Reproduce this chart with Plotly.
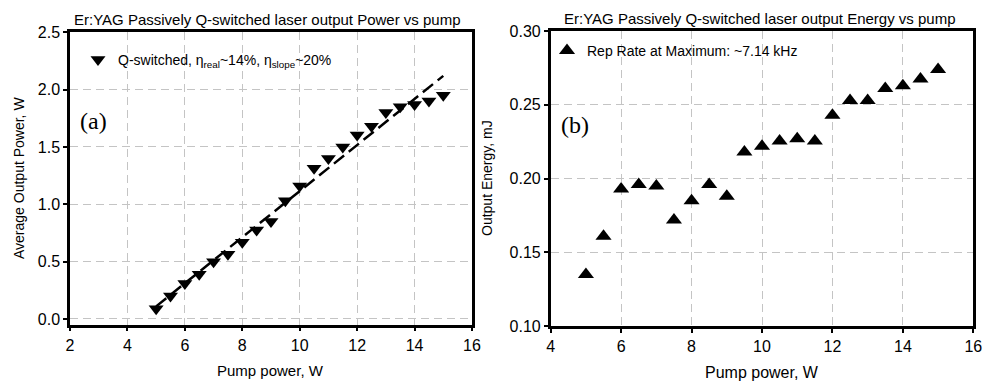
import plotly.graph_objects as go

# ---------------- data ----------------
pump_power = [5, 5.5, 6, 6.5, 7, 7.5, 8, 8.5, 9, 9.5, 10, 10.5, 11, 11.5, 12, 12.5, 13, 13.5, 14, 14.5, 15]
avg_power = [0.09, 0.20, 0.31, 0.39, 0.50, 0.565, 0.67, 0.775, 0.85, 1.03, 1.16, 1.315, 1.40, 1.50, 1.605,
             1.68, 1.80, 1.85, 1.87, 1.90, 1.95]
fit_x = [5, 15]
fit_y = [0.11, 2.12]
energy = [0.135, 0.161, 0.193, 0.196, 0.195, 0.172, 0.185, 0.196, 0.188, 0.218, 0.222, 0.2255, 0.227,
          0.2255, 0.243, 0.253, 0.253, 0.261, 0.263, 0.2675, 0.274]

W, H = 985, 382


def px(x):
    return x / W


def py(y):
    return 1 - y / H


FONT = "Liberation Sans, Arial, sans-serif"
GRID = "#c4c4c4"

fig = go.Figure()

fig.add_trace(go.Scatter(
    x=fit_x, y=fit_y, mode="lines", xaxis="x", yaxis="y",
    line=dict(color="black", width=2.5, dash="13px,6px"), showlegend=False, hoverinfo="skip"))
fig.add_trace(go.Scatter(
    x=pump_power, y=avg_power, mode="markers", xaxis="x", yaxis="y",
    name="Q-switched, η<sub>real</sub>~14%, η<sub>slope</sub>~20%",
    marker=dict(symbol="triangle-down", size=13, color="black"), legend="legend"))
fig.add_trace(go.Scatter(
    x=pump_power, y=energy, mode="markers", xaxis="x2", yaxis="y2",
    name="Rep Rate at Maximum: ~7.14 kHz",
    marker=dict(symbol="triangle-up", size=14, color="black"), legend="legend2"))

axis_common = dict(
    showline=True, linecolor="black", linewidth=2.5, mirror=True,
    ticks="outside", ticklen=4, tickwidth=1.5, tickcolor="black",
    showgrid=True, gridcolor=GRID, gridwidth=1, griddash="8px,5px",
    zeroline=False, automargin=False,
    tickfont=dict(family=FONT, size=16, color="black"),
)

fig.update_layout(
    width=W, height=H,
    margin=dict(l=0, r=0, t=0, b=0),
    paper_bgcolor="white", plot_bgcolor="white",
    xaxis=dict(domain=[px(70), px(472)], range=[2, 16], dtick=2, anchor="y", **axis_common),
    yaxis=dict(domain=[py(324.7), py(32.3)], range=[-0.05, 2.5], dtick=0.5, tick0=0,
               tickformat=".1f", anchor="x", **axis_common),
    xaxis2=dict(domain=[px(550.7), px(973.3)], range=[4, 16], dtick=2, anchor="y2", **axis_common),
    yaxis2=dict(domain=[py(326.3), py(31)], range=[0.10, 0.30], dtick=0.05, tick0=0.1,
                tickformat=".2f", anchor="x2", **axis_common),
    legend=dict(x=px(78), y=py(44), xanchor="left", yanchor="top", bgcolor="rgba(0,0,0,0)",
                font=dict(family=FONT, size=14, color="black")),
    legend2=dict(x=px(547), y=py(35), xanchor="left", yanchor="top", bgcolor="rgba(0,0,0,0)",
                 font=dict(family=FONT, size=14, color="black")),
)

annotations = [
    dict(text="Er:YAG Passively Q-switched laser output Power vs pump", x=px(267.5), y=py(20),
         font=dict(family=FONT, size=15, color="black")),
    dict(text="Er:YAG Passively Q-switched laser output Energy vs pump", x=px(760), y=py(18.5),
         font=dict(family=FONT, size=15, color="black")),
    dict(text="Pump power, W", x=px(270), y=py(370), font=dict(family=FONT, size=15, color="black")),
    dict(text="Pump power, W", x=px(762), y=py(372.5), font=dict(family=FONT, size=16, color="black")),
    dict(text="Average Output Power, W", x=px(19), y=py(178), textangle=-90,
         font=dict(family=FONT, size=14, color="black")),
    dict(text="Output Energy, mJ", x=px(487), y=py(178), textangle=-90,
         font=dict(family=FONT, size=14, color="black")),
    dict(text="(a)", x=px(93), y=py(121), font=dict(family="Liberation Serif, Times New Roman, serif",
                                                      size=24, color="black")),
    dict(text="(b)", x=px(575), y=py(125), font=dict(family="Liberation Serif, Times New Roman, serif",
                                                       size=24, color="black")),
]
for a in annotations:
    a.update(xref="paper", yref="paper", showarrow=False, xanchor="center", yanchor="middle")
fig.update_layout(annotations=annotations)

fig.write_html("out.html")
